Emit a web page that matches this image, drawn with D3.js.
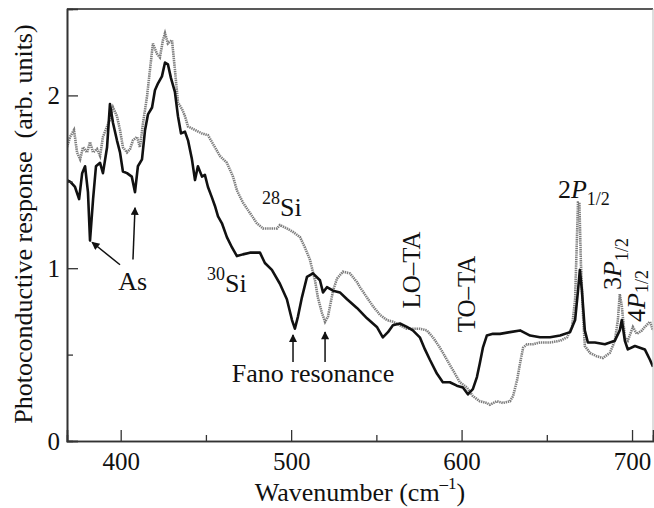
<!DOCTYPE html>
<html>
<head>
<meta charset="utf-8">
<script src="https://cdn.jsdelivr.net/npm/d3@7"></script>
<style>
  body { margin: 0; background: white; }
  text { font-family: "Liberation Serif", "Times New Roman", serif; fill: #111; }
</style>
</head>
<body>
<svg id="chart"></svg>
<script>
// 30Si sample (solid line): [wavenumber, response]
const si30 = [
  [368.5,1.51],[370.5,1.50],[373.2,1.47],[375.6,1.40],[377.4,1.55],[379.1,1.59],[380.8,1.44],
  [382.0,1.16],[383.8,1.40],[385.5,1.59],[387.9,1.61],[389.6,1.55],[392.0,1.70],[393.7,1.95],
  [395.5,1.84],[397.8,1.74],[399.6,1.67],[401.3,1.56],[403.7,1.55],[406.5,1.53],[408.4,1.44],
  [410.1,1.59],[412.5,1.63],[414.3,1.80],[416.0,1.89],[418.4,1.93],[420.1,2.03],[421.9,2.07],
  [424.2,2.11],[426.0,2.19],[427.7,2.18],[429.5,2.10],[431.8,2.02],[433.6,1.88],[435.4,1.78],
  [437.7,1.79],[439.5,1.74],[441.8,1.63],[443.6,1.51],[445.3,1.59],[447.7,1.53],[449.4,1.54],
  [451.2,1.47],[453.5,1.41],[455.3,1.36],[457.1,1.30],[459.4,1.26],[462.3,1.18],[465.3,1.12],
  [468.2,1.07],[471.7,1.08],[475.8,1.09],[481.7,1.09],[484.6,1.03],[488.7,0.99],[493.4,0.91],
  [497.5,0.82],[500.5,0.70],[502.2,0.65],[504.0,0.72],[506.3,0.83],[509.3,0.95],[512.8,0.97],
  [516.9,0.93],[518.7,0.86],[521.0,0.89],[524.6,0.87],[528.6,0.86],[532.8,0.82],[538.6,0.77],
  [544.5,0.71],[550.3,0.66],[553.8,0.60],[556.8,0.63],[559.7,0.67],[563.8,0.68],[567.9,0.66],
  [571.4,0.64],[575.5,0.60],[578.5,0.53],[581.4,0.47],[585.5,0.39],[589.0,0.34],[593.1,0.34],
  [597.2,0.32],[600.8,0.31],[603.7,0.27],[606.6,0.30],[609.0,0.37],[610.7,0.45],[612.5,0.54],
  [614.8,0.61],[618.4,0.62],[622.5,0.62],[628.4,0.63],[634.3,0.64],[640.2,0.61],[646.0,0.60],
  [651.9,0.60],[657.8,0.61],[663.6,0.63],[666.6,0.70],[668.3,0.87],[669.4,0.99],[670.6,0.87],
  [672.3,0.64],[674.1,0.57],[678.2,0.57],[684.1,0.56],[689.9,0.58],[692.8,0.64],[694.0,0.70],
  [695.8,0.58],[697.5,0.53],[701.7,0.55],[704.6,0.54],[707.5,0.53],[710.5,0.47],[712.3,0.43]
];

// 28Si sample (grey dotted line)
const si28 = [
  [368.5,1.70],[370.3,1.76],[372.6,1.80],[374.4,1.67],[376.2,1.63],[377.9,1.70],[380.3,1.67],
  [382.0,1.73],[383.8,1.67],[386.1,1.69],[387.9,1.65],[389.6,1.76],[392.0,1.82],[393.7,1.86],
  [395.5,1.93],[397.8,1.88],[399.6,1.80],[401.3,1.70],[403.7,1.67],[405.5,1.69],[407.2,1.74],
  [409.6,1.76],[411.3,1.70],[413.1,1.84],[415.4,1.99],[417.2,2.15],[418.9,2.30],[421.3,2.24],
  [423.0,2.22],[424.8,2.32],[426.0,2.36],[427.7,2.30],[430.1,2.32],[431.8,2.15],[433.6,1.96],
  [436.0,1.92],[437.7,1.88],[439.5,1.82],[443.6,1.80],[447.7,1.78],[451.2,1.77],[454.1,1.72],
  [458.2,1.65],[462.3,1.61],[465.9,1.53],[468.2,1.45],[471.7,1.38],[475.8,1.32],[479.9,1.26],
  [483.5,1.23],[487.6,1.23],[491.7,1.23],[493.4,1.25],[497.5,1.23],[501.1,1.21],[505.2,1.18],
  [508.1,1.12],[511.0,1.05],[514.0,0.93],[515.7,0.83],[518.1,0.74],[519.9,0.69],[521.6,0.72],
  [524.6,0.87],[526.9,0.94],[530.4,0.98],[534.5,0.97],[538.6,0.92],[540.4,0.89],[544.5,0.83],
  [548.0,0.78],[552.1,0.73],[556.2,0.70],[559.7,0.69],[563.8,0.67],[567.9,0.65],[575.5,0.65],
  [579.6,0.64],[583.2,0.60],[587.3,0.54],[591.4,0.47],[594.9,0.41],[599.0,0.34],[603.1,0.31],
  [606.6,0.26],[610.7,0.23],[614.8,0.22],[616.6,0.21],[620.7,0.23],[624.3,0.22],[628.4,0.23],
  [630.2,0.26],[632.5,0.35],[634.3,0.45],[636.1,0.54],[638.4,0.56],[641.9,0.56],[646.0,0.57],
  [651.9,0.57],[657.8,0.58],[661.9,0.60],[664.8,0.66],[666.6,0.82],[668.3,1.38],[669.1,1.38],
  [670.0,1.03],[671.2,0.74],[672.3,0.55],[675.3,0.51],[679.4,0.49],[682.9,0.48],[687.0,0.51],
  [689.9,0.58],[691.7,0.70],[692.8,0.85],[694.0,0.78],[695.8,0.60],[697.5,0.58],[700.5,0.66],
  [702.8,0.62],[705.8,0.64],[707.5,0.66],[710.5,0.69],[712.3,0.64]
];

const xMajor = [400, 500, 600, 700];
const xMinor = [450, 550, 650];
const yMajor = [0, 1, 2];
const yMinor = [0.5, 1.5];

// arrows: [from wavenumber, from response, to wavenumber, to response]
const arrows = [
  [399.6, 1.02, 383.2, 1.15],
  [407.2, 1.05, 408.4, 1.35],
  [501.1, 0.457, 501.1, 0.614],
  [519.9, 0.457, 519.9, 0.631]
];

const width = 654, height = 508;
const margin = { top: 9, right: 1, bottom: 67, left: 67 };
const innerW = width - margin.left - margin.right;
const innerH = height - margin.top - margin.bottom;

const svg = d3.select("#chart")
    .attr("width", width)
    .attr("height", height);

const g = svg.append("g")
    .attr("transform", `translate(${margin.left},${margin.top})`);

const x = d3.scaleLinear().domain([368.5, 712.3]).range([0, innerW]);
const y = d3.scaleLinear().domain([0, 2.5]).range([innerH, 0]);

g.append("clipPath").attr("id", "clip")
    .append("rect").attr("width", innerW).attr("height", innerH);

const line = d3.line().x(d => x(d[0])).y(d => y(d[1]));

// grey dotted 28Si
g.append("path")
    .datum(si28)
    .attr("clip-path", "url(#clip)")
    .attr("d", line)
    .attr("fill", "none")
    .attr("stroke", "#7d7d7d")
    .attr("stroke-width", 2.6)
    .attr("stroke-dasharray", "1.4,0.8");

// solid 30Si
g.append("path")
    .datum(si30)
    .attr("clip-path", "url(#clip)")
    .attr("d", line)
    .attr("fill", "none")
    .attr("stroke", "#111")
    .attr("stroke-width", 2.6)
    .attr("stroke-linejoin", "round");

// frame
g.append("line").attr("x1", 0).attr("x2", innerW).attr("y1", 0).attr("y2", 0)
    .attr("stroke", "#222").attr("stroke-width", 1.6);
g.append("line").attr("x1", innerW).attr("x2", innerW).attr("y1", 0).attr("y2", innerH)
    .attr("stroke", "#bbb").attr("stroke-width", 1);

//axes with inward ticks
const xAxis = d3.axisBottom(x).tickValues(xMajor).tickSize(-11);
const xAxisGroup = g.append("g").attr("transform", `translate(0,${innerH})`);
xAxis(xAxisGroup);
const xMinorGroup = g.append("g").attr("transform", `translate(0,${innerH})`);
d3.axisBottom(x).tickValues(xMinor).tickSize(-6).tickFormat("")(xMinorGroup);

const yAxis = d3.axisLeft(y).tickValues(yMajor).tickSize(-11).tickPadding(7)
    .tickFormat(d3.format("d"));
const yAxisGroup = g.append("g");
yAxis(yAxisGroup);
const yMinorGroup = g.append("g");
d3.axisLeft(y).tickValues(yMinor).tickSize(-6).tickFormat("")(yMinorGroup);

g.selectAll(".domain").attr("stroke", "#333").attr("stroke-width", 1.6);
g.selectAll(".tick line").attr("stroke", "#333").attr("stroke-width", 1.3);
g.selectAll(".tick text")
    .style("font-family", "Liberation Serif, serif")
    .style("font-size", "25px")
    .attr("fill", "#111");
xAxisGroup.selectAll(".tick text").attr("y", 11).attr("dy", "0.71em");
yAxisGroup.selectAll(".tick text").attr("x", -7);

// axis labels
svg.append("text")
    .attr("x", margin.left + innerW / 2)
    .attr("y", 501)
    .attr("text-anchor", "middle")
    .style("font-size", "26px")
    .call(t => {
        t.append("tspan").text("Wavenumber (cm");
        t.append("tspan").text("–1").style("font-size", "17px").attr("dy", -12);
        t.append("tspan").text(")").attr("dy", 12);
    });

svg.append("text")
    .attr("transform", `translate(32,${margin.top + 215}) rotate(-90)`)
    .attr("text-anchor", "middle")
    .style("font-size", "26px")
    .attr("xml:space", "preserve")
    .text("Photoconductive response  (arb. units)");

// arrows
const defs = svg.append("defs");
defs.append("marker")
    .attr("id", "head")
    .attr("viewBox", "0 0 10 10")
    .attr("refX", 9).attr("refY", 5)
    .attr("markerWidth", 10).attr("markerHeight", 8)
    .attr("markerUnits", "userSpaceOnUse")
    .attr("orient", "auto")
    .append("path").attr("d", "M0,0 L10,5 L0,10 Z").attr("fill", "#111");

g.selectAll("line.arrow")
    .data(arrows)
    .enter()
    .append("line")
    .attr("class", "arrow")
    .attr("x1", d => x(d[0])).attr("y1", d => y(d[1]))
    .attr("x2", d => x(d[2])).attr("y2", d => y(d[3]))
    .attr("stroke", "#111")
    .attr("stroke-width", 1.5)
    .attr("marker-end", "url(#head)");

// annotations
function label(wn, v) {
    return g.append("text")
        .attr("x", x(wn)).attr("y", y(v))
        .style("font-size", "26px");
}

label(398.5, 0.874).text("As");

label(450.6, 0.863).call(t => {
    t.append("tspan").text("30").style("font-size", "18px").attr("dy", -12);
    t.append("tspan").text("Si").attr("dy", 12);
});

label(482.9, 1.303).call(t => {
    t.append("tspan").text("28").style("font-size", "18px").attr("dy", -12);
    t.append("tspan").text("Si").attr("dy", 12);
});

label(512.8, 0.342).attr("text-anchor", "middle").text("Fano resonance");

g.append("text")
    .attr("transform", `translate(${x(575.5)},${y(0.99)}) rotate(-90)`)
    .attr("text-anchor", "middle")
    .style("font-size", "25px")
    .text("LO–TA");

g.append("text")
    .attr("transform", `translate(${x(607.8)},${y(0.851)}) rotate(-90)`)
    .attr("text-anchor", "middle")
    .style("font-size", "25px")
    .text("TO–TA");

function pLabel(t, n, sub) {
    t.append("tspan").text(n);
    t.append("tspan").text("P").style("font-style", "italic");
    t.append("tspan").text("1/2").style("font-size", "18px").attr("dy", sub);
}

label(656.5, 1.407).call(t => pLabel(t, "2", 7));

g.append("text")
    .attr("transform", `translate(${x(693.4)},${y(0.874)}) rotate(-90)`)
    .style("font-size", "26px")
    .call(t => pLabel(t, "3", 7));

g.append("text")
    .attr("transform", `translate(${x(707.6)},${y(0.689)}) rotate(-90)`)
    .style("font-size", "26px")
    .call(t => pLabel(t, "4", 3));
</script>
</body>
</html>
